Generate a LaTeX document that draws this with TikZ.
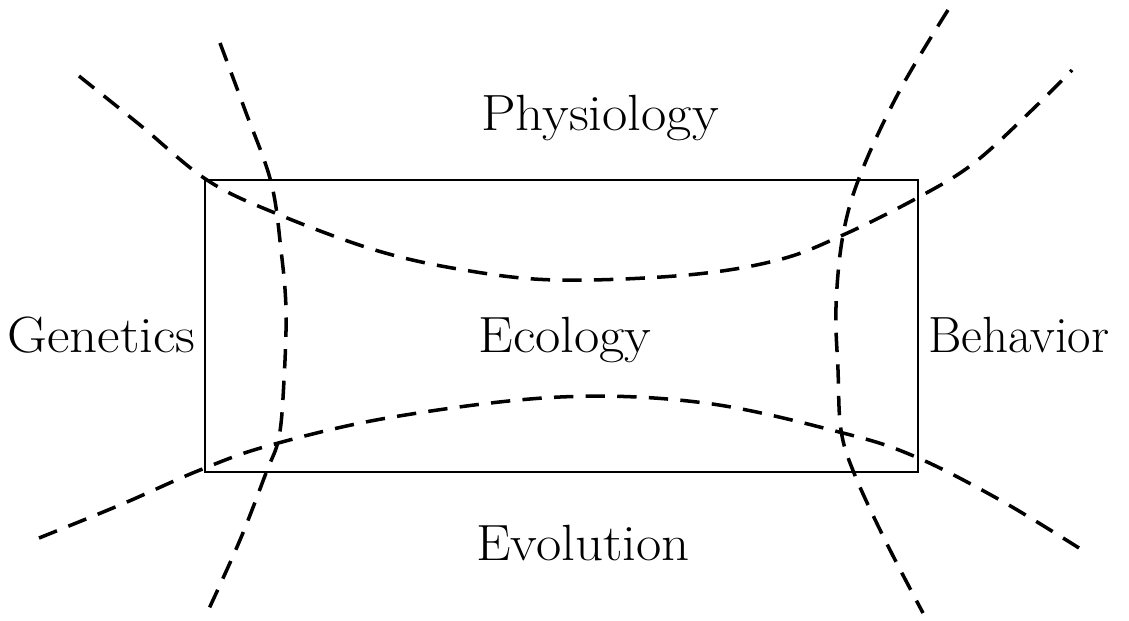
\documentclass[tikz,border=0pt]{standalone}
\newcommand{\wide}[1]{\scalebox{1.08}[1]{#1}}
\begin{document}
\begin{tikzpicture}[x=0.02cm,y=-0.02cm,
  field/.style={font=\fontsize{29}{33}\selectfont, inner sep=0pt, anchor=base},
  border/.style={draw, line width=1.6pt},
  bound/.style={line width=2pt, dash pattern=on 11pt off 7pt, line cap=butt}]
\useasboundingbox (0,0) rectangle (1129,620);
\node[border, minimum width=14.26cm, minimum height=5.84cm, inner sep=0pt] (box) at (561.5,326) {};
\node[field] (phys) at (600,130) {\wide{Physiology}};
\node[field] (eco) at (565,352) {\wide{Ecology}};
\node[field] (evo) at (583,560) {\wide{Evolution}};
\node[field, anchor=base east] (gen) at (196,352) {\wide{Genetics}};
\node[field, anchor=base west] (beh) at (928,352) {Behavior};
\draw[bound] plot[smooth, tension=0.6] coordinates {(79,76) (140,125) (207,180) (275,213) (375,250) (464,270) (557,280) (687,275) (778,260) (843,235) (919,197) (974,163) (1032,110) (1072,70)};
\draw[bound] plot[smooth, tension=0.6] coordinates {(39,538) (120,505) (200,470) (271,445) (393,417) (560,397) (705,403) (843,433) (916,457) (1000,500) (1079,548)};
\draw[bound] plot[smooth, tension=0.6] coordinates {(220,43) (245,110) (271,182) (281,250) (286,310) (284,380) (279,437) (266,473) (240,540) (207,613)};
\draw[bound] plot[smooth, tension=0.6] coordinates {(948,10) (900,90) (861,173) (843,235) (836,307) (838,370) (841,430) (854,473) (885,540) (923,613)};
\end{tikzpicture}
\end{document}
